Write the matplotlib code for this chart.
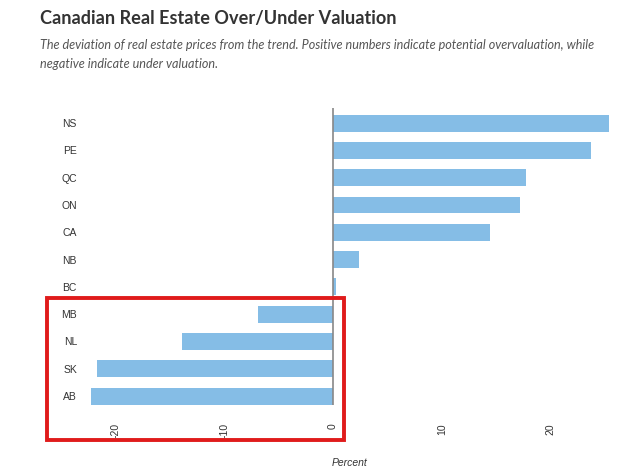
import matplotlib.pyplot as plt
from matplotlib.patches import Rectangle

# Provinces (top to bottom) and deviation from trend, percent
provinces = ["NS", "PE", "QC", "ON", "CA", "NB", "BC", "MB", "NL", "SK", "AB"]
deviation = [25.3, 23.7, 17.7, 17.2, 14.4, 2.4, 0.3, -6.9, -13.9, -21.7, -22.2]
x_ticks = [-20, -10, 0, 10, 20]

fig = plt.figure(figsize=(6.4, 4.76), dpi=100)
ax = fig.add_axes([0.1375, 0.149, 0.8185, 0.624])

ypos = list(range(len(provinces)))[::-1]
ax.barh(ypos, deviation, height=0.62, color="#85bde6", zorder=2)
ax.axvline(0, color="#888888", linewidth=1.2, zorder=3)

ax.set_xlim(-22.5, 25.6)
ax.set_ylim(-0.33, 10.55)
ax.set_yticks(ypos)
ax.set_yticklabels(provinces, fontsize=7.5, color="#333333", family="Liberation Sans")
ax.set_xticks(x_ticks)
ax.set_xticklabels([str(t) for t in x_ticks], rotation=90, fontsize=7.5,
                   color="#333333", family="Liberation Sans")
ax.tick_params(length=0)
ax.tick_params(axis="y", pad=8)
ax.tick_params(axis="x", pad=13)
for s in ax.spines.values():
    s.set_visible(False)
ax.set_xlabel("Percent", fontsize=7.5, style="italic", color="#333333",
              family="Liberation Sans", labelpad=14)

fig.text(0.062, 0.962, "Canadian Real Estate Over/Under Valuation", fontsize=13.1,
         color="#333333", family="Lato", weight="bold", va="center")
fig.text(0.062, 0.905, "The deviation of real estate prices from the trend. Positive numbers "
         "indicate potential overvaluation, while", fontsize=9.1, color="#555555",
         family="Lato", style="italic", va="center")
fig.text(0.062, 0.865, "negative indicate under valuation.", fontsize=9.1, color="#555555",
         family="Lato", style="italic", va="center")

# red highlight box around the negative provinces
fig.patches.append(Rectangle((47 / 640, 1 - 440 / 476), 297 / 640, 142 / 476,
                             transform=fig.transFigure, fill=False,
                             edgecolor="#e01b1b", linewidth=2.8, zorder=5))

plt.savefig("out.png", dpi=100)
plt.close()
